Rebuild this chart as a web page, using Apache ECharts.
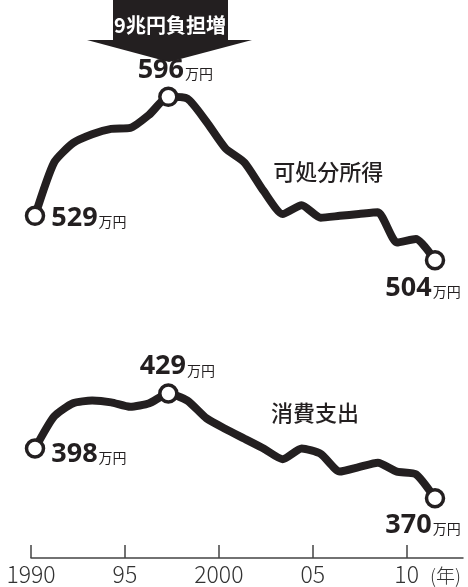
<!DOCTYPE html>
<html>
<head>
<meta charset="UTF-8">
<title>可処分所得と消費支出</title>
<style>
  html, body { margin: 0; padding: 0; background: #fff; }
  #chart { width: 468px; height: 587px; }
</style>
</head>
<body>
<div id="chart"></div>
<script src="https://cdn.jsdelivr.net/npm/echarts@6/dist/echarts.min.js"></script>
<script>
var years = [1990, 1991, 1992, 1993, 1994, 1995, 1996, 1997, 1998, 1999, 2000,
             2001, 2002, 2003, 2004, 2005, 2006, 2007, 2008, 2009, 2010, 2011];
// 可処分所得 (万円)
var incomeValues = [529, 559, 570, 575, 578, 578.5, 586, 596, 595, 582, 567,
                    559, 543, 530, 535, 528, 529, 530, 531, 514, 516, 504];
// 消費支出 (万円)
var spendValues = [398, 416, 423.5, 425, 424, 421.5, 423.5, 429, 425, 415, 409,
                   403.5, 398, 392, 398, 395, 385, 387.5, 390, 385, 383.5, 370];
var tickYears = [1990, 1995, 2000, 2005, 2010];
var tickLabels = ['1990', '95', '2000', '05', '10'];
var seriesNames = ['可処分所得', '消費支出'];
var bannerText = '9兆円負担増';
var unit = '万円';

var ink = '#231f20';

// which points get a circle + value label, and where the label goes
var incomeMarks = {
  0: { position: 'right', distance: 6, offset: [0, 2] },
  7: { position: 'top', distance: 3, offset: [7, 0] },
  21: { position: 'bottom', distance: 4, offset: [-12, 0] }
};
var spendMarks = {
  0: { position: 'right', distance: 6, offset: [0, 6] },
  7: { position: 'top', distance: 3, offset: [9, 0] },
  21: { position: 'bottom', distance: 3, offset: [-12, 0] }
};

var valueRich = {
  n: { fontFamily: 'Noto Sans', fontWeight: 'bold', fontSize: 27, color: ink, verticalAlign: 'bottom' },
  u: { fontFamily: 'Noto Sans CJK JP', fontSize: 14, color: ink, verticalAlign: 'bottom', padding: [0, 0, 3, 1] }
};

function buildData(values, marks) {
  return values.map(function (v, i) {
    var item = { value: [years[i], v] };
    if (marks[i]) {
      item.symbolSize = 17;
      item.label = {
        show: true,
        position: marks[i].position,
        distance: marks[i].distance,
        offset: marks[i].offset,
        formatter: '{n|' + v + '}{u|' + unit + '}',
        rich: valueRich
      };
    }
    return item;
  });
}

function lineSeries(name, values, marks, namePos) {
  return {
    name: name,
    type: 'line',
    xAxisIndex: 0,
    yAxisIndex: 0,
    data: buildData(values, marks),
    smooth: 0.2,
    symbol: 'circle',
    symbolSize: 0,
    showSymbol: true,
    lineStyle: { color: ink, width: 8, cap: 'round', join: 'round' },
    itemStyle: { color: '#fff', borderColor: ink, borderWidth: 3.5 },
    emphasis: { disabled: true },
    z: 3,
    markPoint: {
      symbol: 'circle',
      symbolSize: 1,
      itemStyle: { color: 'rgba(0,0,0,0)' },
      label: {
        show: true,
        position: 'inside',
        formatter: name,
        fontFamily: 'Noto Sans CJK JP',
        fontWeight: 500,
        fontSize: 22,
        color: ink
      },
      data: [{ coord: namePos }]
    }
  };
}

var chart = echarts.init(document.getElementById('chart'));
chart.setOption({
  animation: false,
  grid: [
    { left: 35, right: 33, top: 72, bottom: 71 },
    { left: 31, right: 5, top: 500, bottom: 29 }
  ],
  xAxis: [
    { gridIndex: 0, type: 'value', min: 1990, max: 2011, show: false },
    {
      gridIndex: 1, type: 'value', min: 1990, max: 2013,
      splitLine: { show: false },
      axisLine: { show: true, lineStyle: { color: '#444', width: 1.5 } },
      axisTick: { show: true, inside: true, length: 13, customValues: tickYears,
                  lineStyle: { color: '#444', width: 1.5 } },
      axisLabel: {
        customValues: tickYears,
        margin: 5,
        fontFamily: 'Noto Sans CJK JP',
        fontWeight: 300,
        fontSize: 23,
        color: '#333',
        formatter: function (v) { return tickLabels[tickYears.indexOf(v)]; }
      }
    }
  ],
  yAxis: [
    { gridIndex: 0, type: 'value', min: 360, max: 610, show: false },
    { gridIndex: 1, type: 'value', show: false }
  ],
  series: [
    lineSeries(seriesNames[0], incomeValues, incomeMarks, [2005.4, 553.7]),
    lineSeries(seriesNames[1], spendValues, spendMarks, [2004.7, 418])
  ],
  graphic: [
    { type: 'rect', shape: { x: 113, y: 0, width: 115, height: 41 }, style: { fill: ink } },
    { type: 'polygon', shape: { points: [[87, 40], [252, 40], [169, 62]] }, style: { fill: ink } },
    {
      type: 'text', x: 170, y: 25,
      style: {
        text: bannerText, fill: '#fff', align: 'center', verticalAlign: 'middle',
        fontFamily: 'Noto Sans CJK JP', fontWeight: 'bold', fontSize: 20
      }
    },
    {
      type: 'text', x: 430, y: 576,
      style: {
        text: '(年)', fill: '#333', align: 'left', verticalAlign: 'middle',
        fontFamily: 'Noto Sans CJK JP', fontWeight: 300, fontSize: 19
      }
    }
  ]
});
</script>
</body>
</html>
